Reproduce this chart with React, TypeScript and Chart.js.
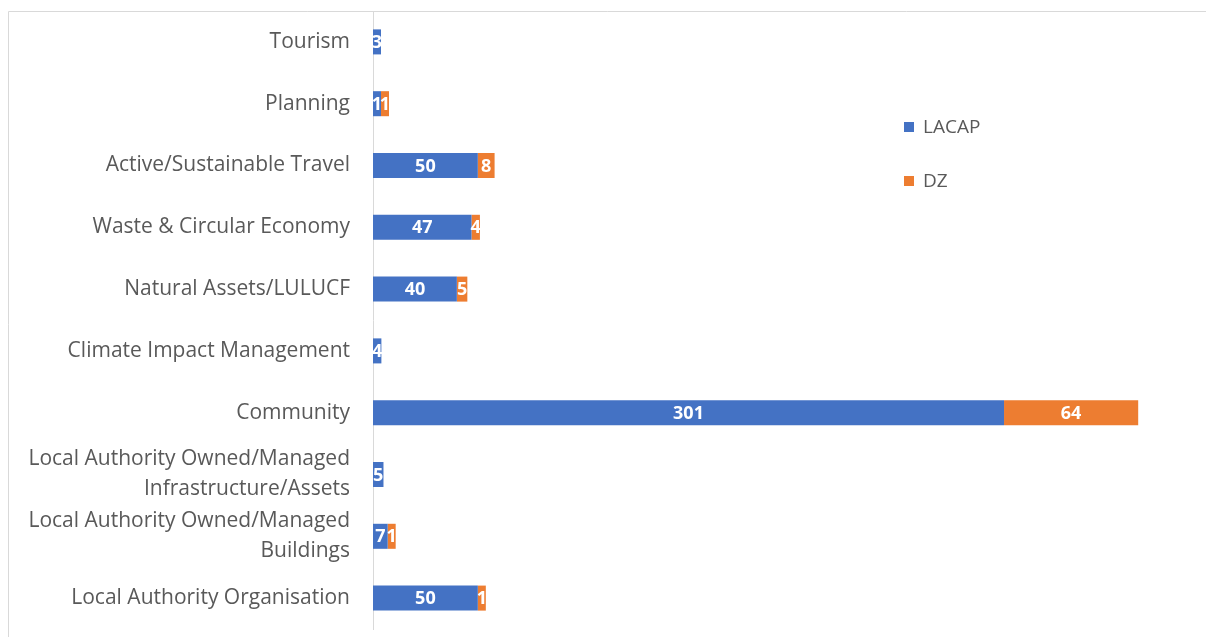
import React, { useEffect, useRef } from "react";
import { Chart, registerables } from "chart.js";

Chart.register(...registerables);

const categories: (string | string[])[] = [
  "Tourism",
  "Planning",
  "Active/Sustainable Travel",
  "Waste & Circular Economy",
  "Natural Assets/LULUCF",
  "Climate Impact Management",
  "Community",
  ["Local Authority Owned/Managed", "Infrastructure/Assets"],
  ["Local Authority Owned/Managed", "Buildings"],
  "Local Authority Organisation",
];
const lacap = [3, 1, 50, 47, 40, 4, 301, 5, 7, 50];
const dz = [null, 1, 8, 4, 5, null, 64, null, 1, 1];
const seriesNames = ["LACAP", "DZ"];
const colors = ["#4472C4", "#ED7D31"];

const FONT = "'Open Sans', 'Noto Sans', sans-serif";

const framePlugin = {
  id: "frame",
  beforeDraw(chart: any) {
    const ctx = chart.ctx;
    ctx.save();
    ctx.strokeStyle = "#d9d9d9";
    ctx.lineWidth = 1;
    ctx.beginPath();
    ctx.moveTo(8.5, 637);
    ctx.lineTo(8.5, 11.5);
    ctx.lineTo(1206, 11.5);
    ctx.stroke();
    ctx.restore();
  },
};

const labelPlugin = {
  id: "barLabels",
  afterDatasetsDraw(chart: any) {
    const ctx = chart.ctx;
    ctx.save();
    ctx.font = `bold 18px ${FONT}`;
    ctx.fillStyle = "#ffffff";
    ctx.textAlign = "center";
    ctx.textBaseline = "middle";
    chart.data.datasets.forEach((ds: any, di: number) => {
      const meta = chart.getDatasetMeta(di);
      meta.data.forEach((el: any, i: number) => {
        const v = ds.data[i];
        if (!v) return;
        const p = el.getProps(["x", "y", "base"], true);
        ctx.fillText(String(v), (p.x + p.base) / 2, p.y + 1);
      });
    });
    ctx.restore();
  },
};

const legendPlugin = {
  id: "customLegend",
  afterDraw(chart: any) {
    const ctx = chart.ctx;
    ctx.save();
    ctx.font = `19px ${FONT}`;
    ctx.textBaseline = "middle";
    ctx.textAlign = "left";
    const ys = [127, 181];
    seriesNames.forEach((n, i) => {
      ctx.fillStyle = colors[i];
      ctx.fillRect(904, ys[i] - 5, 10, 10);
      ctx.fillStyle = "#595959";
      ctx.fillText(n, 923, ys[i] + 1);
    });
    ctx.restore();
  },
};

export default function App() {
  const ref = useRef<HTMLCanvasElement>(null);
  useEffect(() => {
    if (!ref.current) return;
    const chart = new Chart(ref.current, {
      type: "bar",
      data: {
        labels: categories,
        datasets: [
          {
            label: seriesNames[0],
            data: lacap,
            backgroundColor: colors[0],
            barPercentage: 0.405,
            categoryPercentage: 1,
            minBarLength: 8,
          },
          {
            label: seriesNames[1],
            data: dz,
            backgroundColor: colors[1],
            barPercentage: 0.405,
            categoryPercentage: 1,
            minBarLength: 8,
          },
        ],
      },
      options: {
        indexAxis: "y",
        animation: false,
        responsive: true,
        maintainAspectRatio: false,
        layout: { padding: { top: 11, bottom: 8, right: 7, left: 0 } },
        plugins: {
          legend: { display: false },
          tooltip: { enabled: false },
        },
        scales: {
          x: {
            stacked: true,
            display: false,
            min: 0,
            max: 394,
          },
          y: {
            stacked: true,
            grid: { display: false, drawTicks: false },
            border: { display: true, color: "#d9d9d9", width: 1 },
            ticks: {
              padding: 23,
              color: "#595959",
              font: { family: FONT, size: 21, lineHeight: 1.43 },
              autoSkip: false,
            },
            afterFit(scale: any) {
              scale.width = 373;
              scale.paddingTop = 0;
              scale.paddingBottom = 0;
            },
          },
        },
      } as any,
      plugins: [framePlugin, labelPlugin, legendPlugin],
    });
    return () => chart.destroy();
  }, []);
  return (
    <div style={{ position: "fixed", left: 0, top: 0, width: 1206, height: 637, background: "#fff" }}>
      <canvas ref={ref} />
    </div>
  );
}
